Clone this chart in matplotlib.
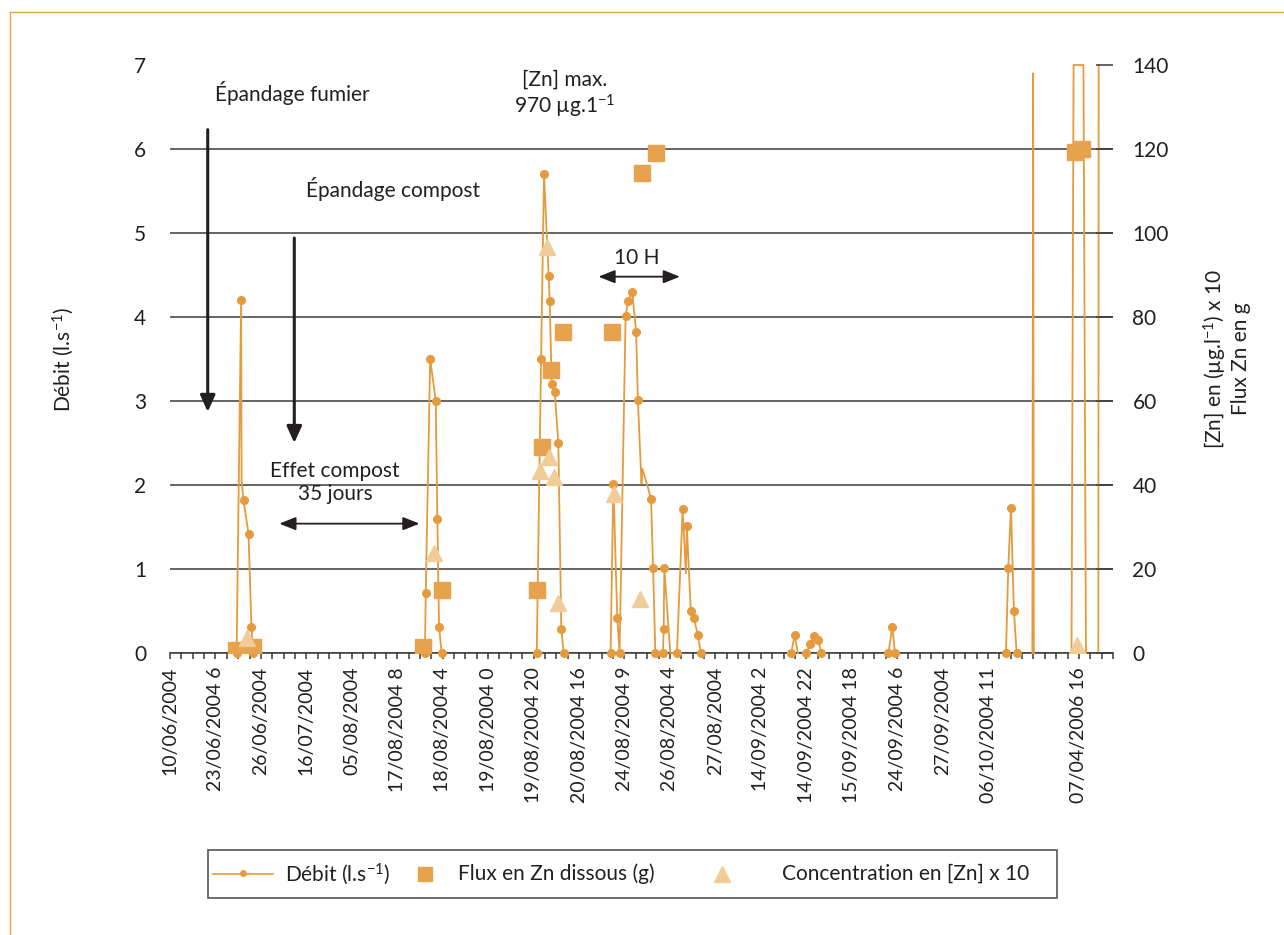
import numpy as np
import matplotlib
matplotlib.use("Agg")
import matplotlib.pyplot as plt
from matplotlib.lines import Line2D
from matplotlib.patches import Rectangle

plt.rcParams['font.family'] = ['Lato', 'DejaVu Sans']
plt.rcParams['mathtext.default'] = 'regular'

ORANGE = '#E59A3E'
SQUARE = '#E6A24C'
PEACH = '#F2CC98'
INK = '#231F20'
GRID = '#3A3A3A'

# x tick labels (one label every 4 categories)
tick_labels = ['10/06/2004', '23/06/2004 6', '26/06/2004', '16/07/2004',
               '05/08/2004', '17/08/2004 8', '18/08/2004 4', '19/08/2004 0',
               '19/08/2004 20', '20/08/2004 16', '24/08/2004 9', '26/08/2004 4',
               '27/08/2004', '14/09/2004 2', '14/09/2004 22', '15/09/2004 18',
               '24/09/2004 6', '27/09/2004', '06/10/2004 11', '', '07/04/2006 16']
n_cat = 83

# Débit (l.s-1): position on category axis, value
debit_x = [5.86, 6.26, 6.30, 6.47, 6.91, 7.17, 7.31, np.nan,
           22.44, 22.51, 22.90, 23.39, 23.53, 23.68, 23.91, np.nan,
           32.28, 32.66, 32.92, 33.33, 33.42, 33.60, 33.86, 34.18, 34.44, 34.65, np.nan,
           38.78, 39.02, 39.37, 39.57, 40.10, 40.31, 40.68, 41.03, 41.18, 41.50, 41.58,
           41.99, 42.34, 42.52, 42.72, 43.39, 43.45, 43.51, 44.03, 44.62, 45.12, 45.41,
           45.49, 45.84, 46.11, 46.46, 46.72, np.nan,
           54.68, 54.97, 55.27, np.nan,
           55.99, 56.37, 56.72, 57.04, 57.33, np.nan,
           63.23, 63.58, 63.81, np.nan,
           73.58, 73.78, 74.02, 74.28, 74.52, np.nan,
           75.90, 75.97, 76.03, np.nan,
           79.35, 79.53, 80.40, 80.62, np.nan,
           81.71, 81.74]
debit_y = [0, 4.2, 2.05, 1.82, 1.42, 0.31, 0, np.nan,
           0, 0.71, 3.5, 3.0, 1.6, 0.31, 0, np.nan,
           0, 3.5, 5.7, 4.49, 4.19, 3.2, 3.11, 2.5, 0.29, 0, np.nan,
           0, 2.01, 0.42, 0, 4.01, 4.19, 4.30, 3.82, 3.01, 2.02, 2.19,
           2.01, 1.83, 1.01, 0, 0, 0.28, 1.01, 0, 0, 1.71, 0.95,
           1.51, 0.5, 0.42, 0.21, 0, np.nan,
           0, 0.21, 0, np.nan,
           0, 0.11, 0.2, 0.16, 0, np.nan,
           0, 0.31, 0, np.nan,
           0, 1.01, 1.73, 0.5, 0, np.nan,
           0, 6.9, 0, np.nan,
           0, 40, 40, 0, np.nan,
           0, 40]
# points of the débit line drawn without a marker
debit_kinks = [2, 36, 37, 38, 45, 48, 57, 75, 76, 77, 79, 80, 81, 82, 84, 85]

# Flux en Zn dissous (g)
flux_x = [5.84, 7.29, 22.31, 23.91, 32.28, 32.75, 33.53, 34.62, 38.87, 41.50, 42.81, 79.62, 80.23]
flux_y = [0.7, 1.5, 1.5, 15, 15, 49, 67.4, 76.4, 76.4, 114.2, 119.1, 119.3, 120]

# Concentration en [Zn] x 10
conc_x = [6.76, 23.25, 33.18, 33.33, 32.57, 33.83, 34.12, 39.08, 41.41, 79.82]
conc_y = [3.5, 23.7, 96.6, 46.7, 43.3, 41.8, 11.8, 37.9, 12.8, 1.9]

legend_labels = ['Débit (l.s$^{-1}$)', 'Flux en Zn dissous (g)', 'Concentration en [Zn] x 10']

W, H = 1284, 935
fig = plt.figure(figsize=(W / 100, H / 100), dpi=100)
ax = fig.add_axes([170 / W, 1 - 653 / H, 943 / W, 588 / H])

ax.set_xlim(0, n_cat - 0.5)
ax.set_ylim(0, 7)
ax.set_yticks(range(8))
ax.yaxis.grid(True, color=GRID, linewidth=1.1)
ax.get_ygridlines()[-1].set_visible(False)
ax.set_axisbelow(True)
for s in ['top', 'right', 'left']:
    ax.spines[s].set_visible(False)
ax.spines['bottom'].set_color(GRID)
ax.spines['bottom'].set_linewidth(1.1)
ax.tick_params(axis='y', length=0, pad=17, labelsize=15, labelcolor=INK)

ax.set_xticks(np.arange(0, 4 * len(tick_labels), 4))
ax.set_xticklabels(tick_labels, rotation=90, fontsize=14, color=INK)
ax.set_xticks(np.arange(0, n_cat + 1), minor=True)
ax.tick_params(axis='x', which='both', direction='out', length=4, width=1.1, color=GRID, pad=6)

dy = np.minimum(np.array(debit_y, dtype=float), 7)
mark_idx = [i for i in range(len(debit_x)) if i not in debit_kinks and not np.isnan(debit_y[i])]
ax.plot(debit_x, dy, color=ORANGE, lw=1.3, marker='o', ms=5.5, markevery=mark_idx,
        mec=ORANGE, mfc=ORANGE, clip_on=False, zorder=3)

ax.set_ylabel('Débit (l.s$^{-1}$)', fontsize=15, color=INK, labelpad=42)

ax2 = ax.twinx()
ax2.set_ylim(0, 140)
ax2.set_yticks(range(0, 141, 20))
for s in ax2.spines.values():
    s.set_visible(False)
ax2.tick_params(axis='y', direction='in', length=12, width=1.1, color=GRID,
                pad=14, labelsize=15, labelcolor=INK)
ax2.plot(flux_x, flux_y, ls='none', marker='s', ms=11, color=SQUARE, zorder=4)
ax2.plot(conc_x, conc_y, ls='none', marker='^', ms=12, color=PEACH, zorder=5)
ax2.set_ylabel('[Zn] en (µg.l$^{-1}$) x 10\nFlux Zn en g', fontsize=15, color=INK,
               labelpad=24, linespacing=1.1)

# annotations
arr_v = dict(arrowstyle='-|>,head_width=0.45,head_length=1.0', color=INK, lw=2.2, shrinkA=0, shrinkB=0)
arr_h = dict(arrowstyle='<|-|>,head_width=0.4,head_length=1.0', color=INK, lw=1.3, shrinkA=0, shrinkB=0)
ax.text(3.94, 6.67, 'Épandage fumier', fontsize=15, color=INK, va='center')
ax.annotate('', xy=(3.32, 2.87), xytext=(3.32, 6.23), arrowprops=arr_v)
ax.text(11.99, 5.52, 'Épandage compost', fontsize=15, color=INK, va='center')
ax.annotate('', xy=(10.94, 2.5), xytext=(10.94, 4.94), arrowprops=arr_v)
ax.text(34.73, 6.64, '[Zn] max.\n970 µg.1$^{-1}$', fontsize=15, color=INK,
        ha='center', va='center', linespacing=1.15)
ax.text(41.12, 4.70, '10 H', fontsize=15, color=INK, ha='center', va='center')
ax.annotate('', xy=(37.71, 4.48), xytext=(44.88, 4.48), arrowprops=arr_h)
ax.text(14.52, 2.03, 'Effet compost\n35 jours', fontsize=15, color=INK,
        ha='center', va='center', linespacing=1.2)
ax.annotate('', xy=(9.62, 1.54), xytext=(21.96, 1.54), arrowprops=arr_h)

# legend, laid out by hand like the original box
def fx(px):
    return px / W

def fy(py):
    return 1 - py / H

ly = fy(874)
fig.add_artist(Rectangle((fx(208), fy(898)), fx(1057) - fx(208), fy(850) - fy(898),
                         transform=fig.transFigure, fill=False, edgecolor='#555555', lw=1.2))
fig.add_artist(Line2D([fx(213), fx(273)], [ly, ly], color=ORANGE, lw=1.2))
fig.add_artist(Line2D([fx(243)], [ly + 1.5 / H], marker='o', ms=4, color=ORANGE))
fig.add_artist(Line2D([fx(425)], [ly], marker='s', ms=10, color=SQUARE))
fig.add_artist(Line2D([fx(722)], [ly], marker='^', ms=11, color=PEACH))
for x0, lab in zip([285, 458, 782], legend_labels):
    fig.text(fx(x0), ly, lab, fontsize=15, color=INK, va='center', ha='left')

# orange frame of the page
fig.add_artist(Line2D([10 / W, 1], [1 - 12 / H, 1 - 12 / H], color=SQUARE, lw=1))
fig.add_artist(Line2D([10 / W, 10 / W], [0, 1 - 12 / H], color=SQUARE, lw=1))

fig.savefig('out.png', dpi=100)
